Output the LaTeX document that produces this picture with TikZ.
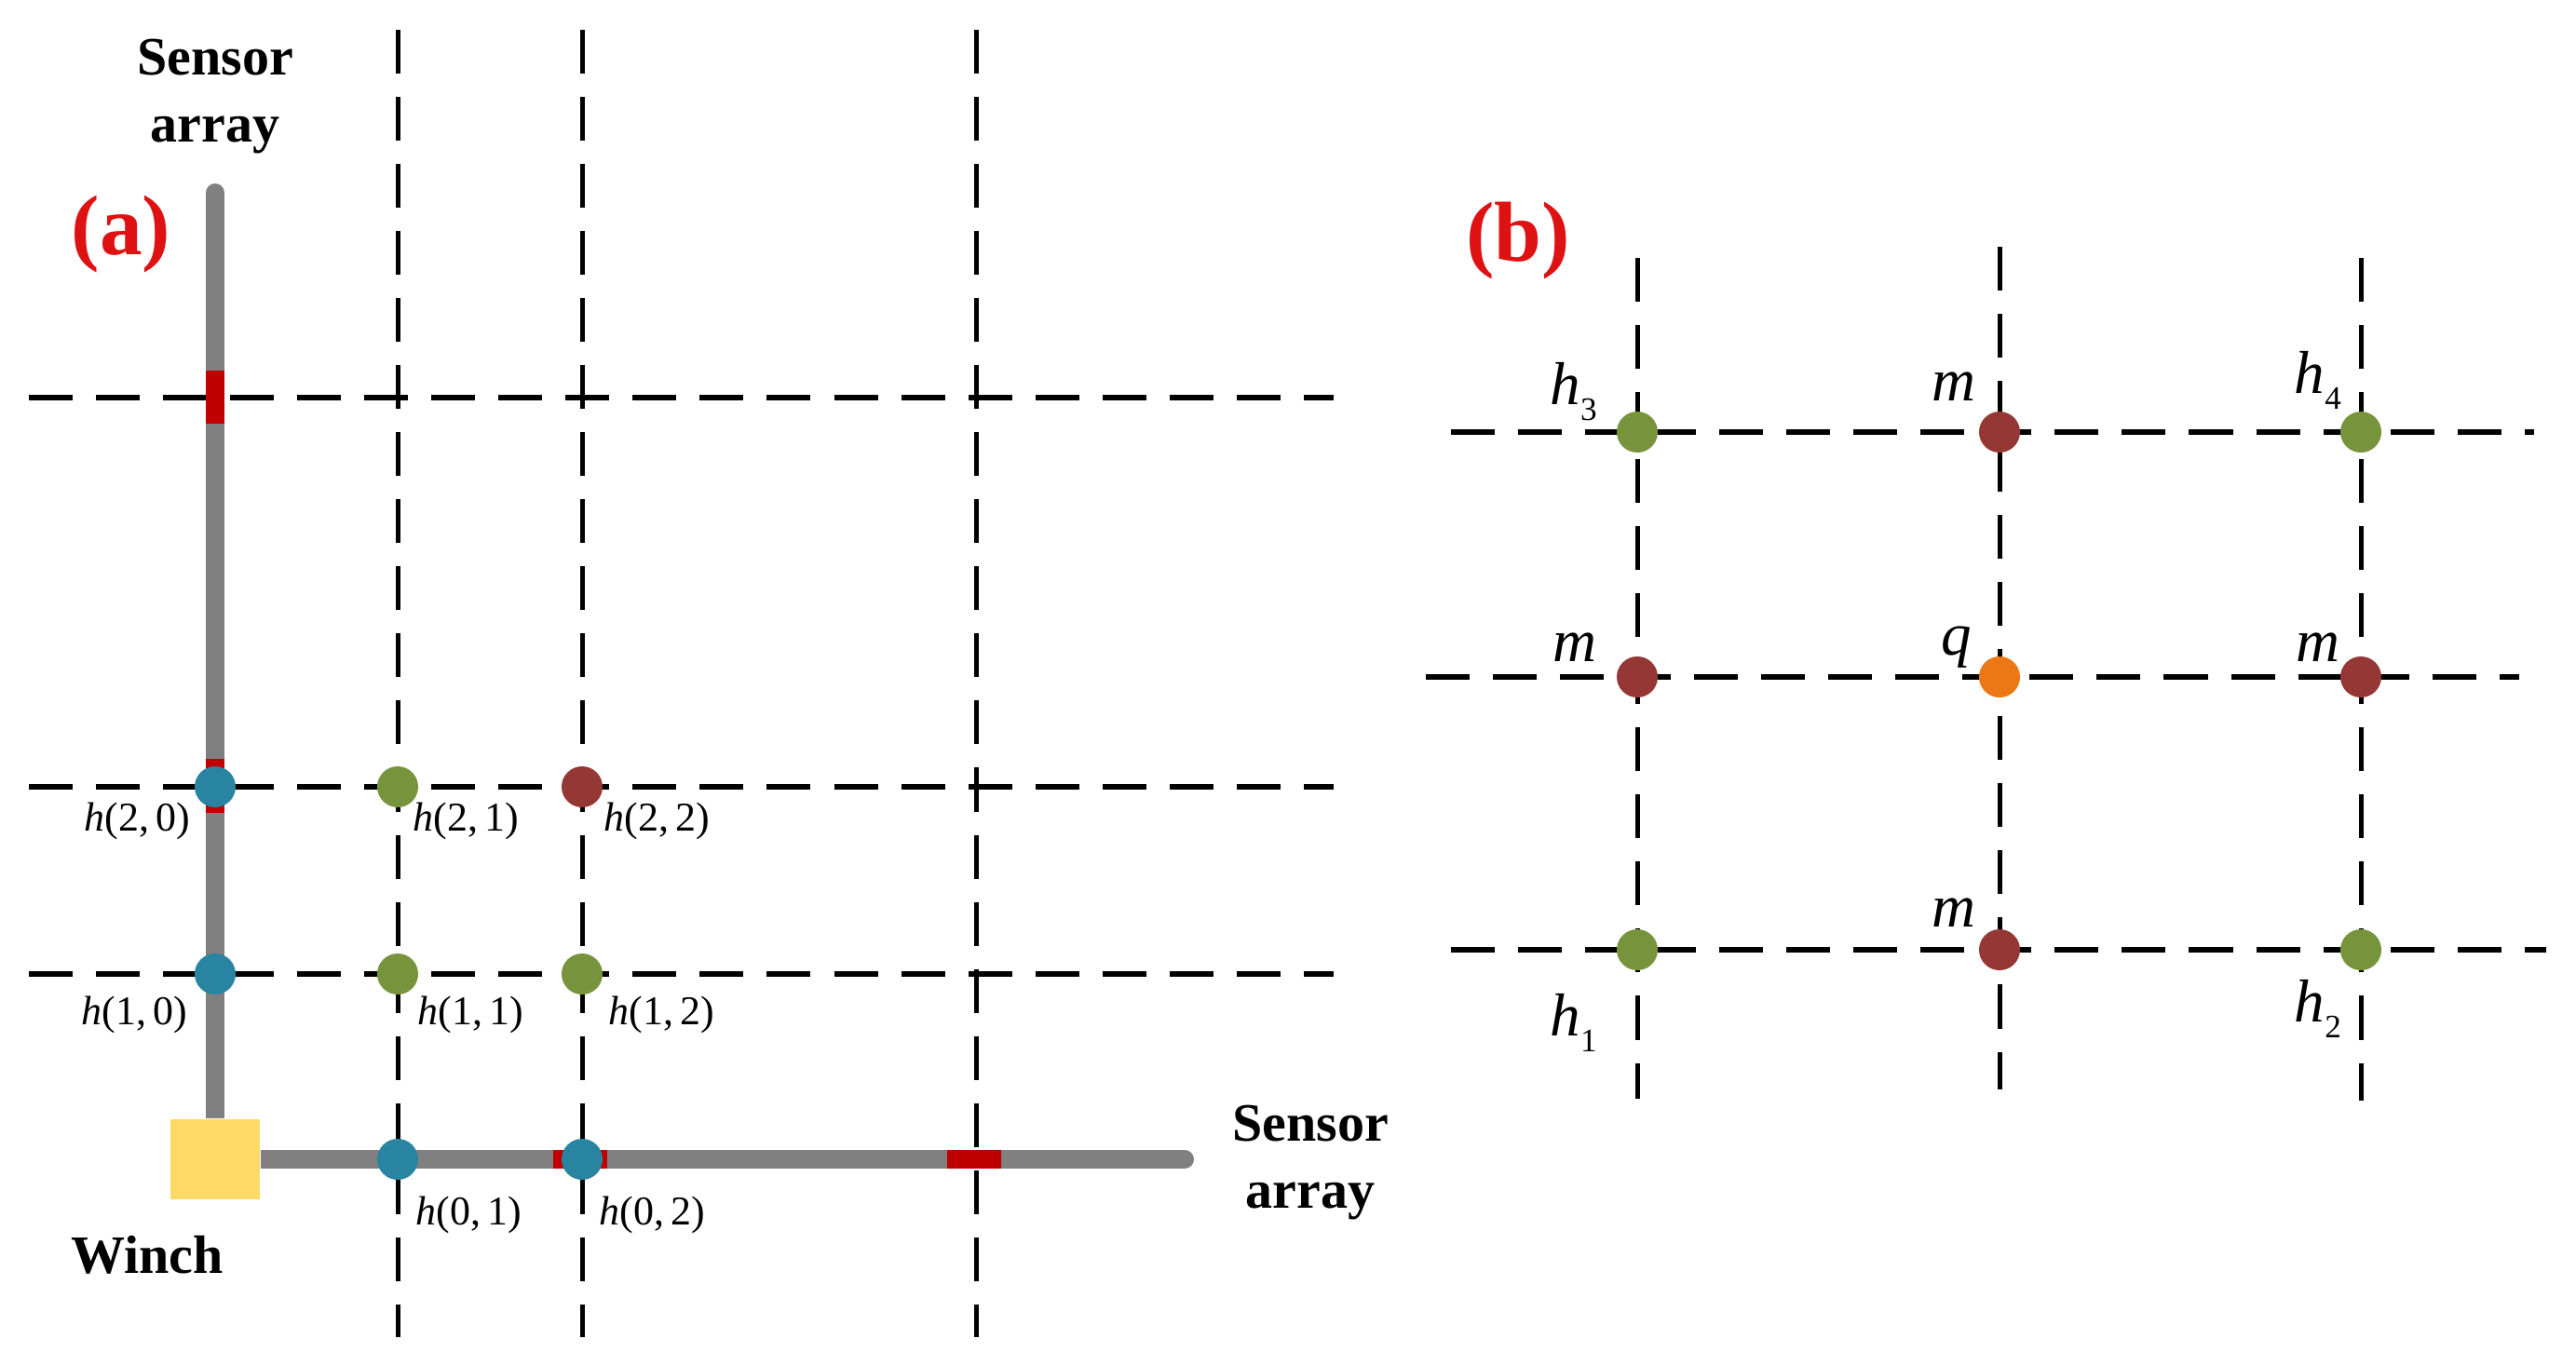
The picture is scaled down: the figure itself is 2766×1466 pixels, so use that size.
\documentclass[tikz,border=0pt]{standalone}
\usepackage{fontspec}
\setmainfont{Liberation Serif}
\definecolor{cablegray}{RGB}{128,128,128}
\definecolor{dotblue}{RGB}{40,132,160}
\definecolor{dotgreen}{RGB}{119,147,60}
\definecolor{dotred}{RGB}{149,55,53}
\definecolor{dotorange}{RGB}{235,120,20}
\definecolor{winchyellow}{RGB}{255,217,102}
\definecolor{markred}{RGB}{192,0,0}
\definecolor{titlered}{RGB}{222,18,18}
\newcommand{\hsub}[1]{\textit{h}\raisebox{-0.17cm}{\fontsize{10}{10}\selectfont\upshape #1}}
\begin{document}
\begin{tikzpicture}[x=0.01cm,y=-0.01cm,
  gl/.style={line width=0.06cm, dash pattern=on 0.47cm off 0.25cm},
  glv/.style={line width=0.05cm, dash pattern=on 0.47cm off 0.25cm},
  cable/.style={line width=0.2cm, draw=cablegray, line cap=round},
  redmk/.style={fill=markred},
  dotnode/.style={circle, inner sep=0pt, minimum size=0.44cm},
  db/.style={dotnode, fill=dotblue},
  dg/.style={dotnode, fill=dotgreen},
  dr/.style={dotnode, fill=dotred},
  dor/.style={dotnode, fill=dotorange},
  lbla/.style={inner sep=0pt, font=\fontsize{12.5}{14}\selectfont},
  lblb/.style={inner sep=0pt, font=\fontsize{18.5}{20}\selectfont\itshape},
  title/.style={inner sep=0pt, font=\fontsize{16.5}{20.5}\selectfont\bfseries, align=center},
  panel/.style={inner sep=0pt, text=titlered, font=\fontsize{26}{28}\selectfont\bfseries}
]
\useasboundingbox (0,0) rectangle (2766,1466);

% ---------------- panel (a) ----------------
% horizontal grid lines
\foreach \y/\n in {427/ra,845/rb,1046/rc}{
  \coordinate (\n w) at (31,\y);
  \coordinate (\n e) at (1432,\y);
  \draw[gl] (\n w) -- (\n e);
}

% winch and cables
\node[fill=winchyellow, minimum width=0.96cm, minimum height=0.86cm, inner sep=0pt] (winch) at (231,1245) {};
\coordinate (ctop) at (231,207);
\coordinate (cright) at (1272,1245);
\draw[cable, line cap=butt] (winch.north) -- (231,300);
\draw[cable] (231,300) -- (ctop);
\draw[cable, line cap=butt] (winch.east) -- (1100,1245);
\draw[cable] (1100,1245) -- (cright);

% red sensor marks
\fill[redmk] (221,398) rectangle (241,455);
\fill[redmk] (221,815) rectangle (241,873);
\fill[redmk] (594,1235) rectangle (652,1255);
\fill[redmk] (1017,1235) rectangle (1075,1255);

% vertical grid lines
\foreach \x/\n in {427/ca,625/cb,1048/cc}{
  \coordinate (\n n) at (\x,32);
  \coordinate (\n s) at (\x,1436);
  \draw[glv] (\n n) -- (\n s);
}

% dots
\node[db] (h20) at (231,845) {};
\node[dg] (h21) at (427,845) {};
\node[dr] (h22) at (625,845) {};
\node[db] (h10) at (231,1046) {};
\node[dg] (h11) at (427,1046) {};
\node[dg] (h12) at (625,1046) {};
\node[db] (h01) at (427,1245) {};
\node[db] (h02) at (625,1245) {};

% labels
\node[lbla, anchor=base east] (t20) at (205,892) {\textit{h}(2,\,0)};
\node[lbla, anchor=base west] (t21) at (443,892) {\textit{h}(2,\,1)};
\node[lbla, anchor=base west] (t22) at (648,892) {\textit{h}(2,\,2)};
\node[lbla, anchor=base east] (t10) at (202,1100) {\textit{h}(1,\,0)};
\node[lbla, anchor=base west] (t11) at (448,1100) {\textit{h}(1,\,1)};
\node[lbla, anchor=base west] (t12) at (653,1100) {\textit{h}(1,\,2)};
\node[lbla, anchor=base west] (t01) at (446,1315) {\textit{h}(0,\,1)};
\node[lbla, anchor=base west] (t02) at (643,1315) {\textit{h}(0,\,2)};

\node[title, anchor=north] (sa1) at (231,41) {Sensor\\array};
\node[title, anchor=north] (sa2) at (1407,1186) {Sensor\\array};
\node[title, anchor=base] (wl) at (158,1367) {Winch};
\node[panel, anchor=base] (pa) at (130,273) {(a)};

% ---------------- panel (b) ----------------
\coordinate (b1w) at (1558,464);  \coordinate (b1e) at (2721,464);
\coordinate (b2w) at (1531,727);  \coordinate (b2e) at (2705,727);
\coordinate (b3w) at (1558,1020); \coordinate (b3e) at (2734,1020);
\draw[gl] (b1w) -- (b1e);
\draw[gl] (b2w) -- (b2e);
\draw[gl] (b3w) -- (b3e);
\coordinate (v1n) at (1758,277); \coordinate (v1s) at (1758,1180);
\coordinate (v2n) at (2147,265); \coordinate (v2s) at (2147,1170);
\coordinate (v3n) at (2535,277); \coordinate (v3s) at (2535,1182);
\draw[glv] (v1n) -- (v1s);
\draw[glv] (v2n) -- (v2s);
\draw[glv] (v3n) -- (v3s);

\node[dg] (bh3) at (1758,464) {};
\node[dr] (bm1) at (2147,464) {};
\node[dg] (bh4) at (2535,464) {};
\node[dr] (bm2) at (1758,727) {};
\node[dor] (bq) at (2147,727) {};
\node[dr] (bm3) at (2535,727) {};
\node[dg] (bh1) at (1758,1020) {};
\node[dr] (bm4) at (2147,1020) {};
\node[dg] (bh2) at (2535,1020) {};

\node[lblb, anchor=base west] (lh3) at (1664,434) {\hsub{3}};
\node[lblb, anchor=base east] (lm1) at (2122,430) {m};
\node[lblb, anchor=base west] (lh4) at (2463,422) {\hsub{4}};
\node[lblb, anchor=base east] (lm2) at (1715,710) {m};
\node[lblb, anchor=base east] (lq) at (2118,703) {q};
\node[lblb, anchor=base east] (lm3) at (2513,710) {m};
\node[lblb, anchor=base east] (lm4) at (2122,995) {m};
\node[lblb, anchor=base west] (lh1) at (1664,1112) {\hsub{1}};
\node[lblb, anchor=base west] (lh2) at (2463,1097) {\hsub{2}};

\node[panel, anchor=base] (pb) at (1630,280) {(b)};
\end{tikzpicture}
\end{document}
